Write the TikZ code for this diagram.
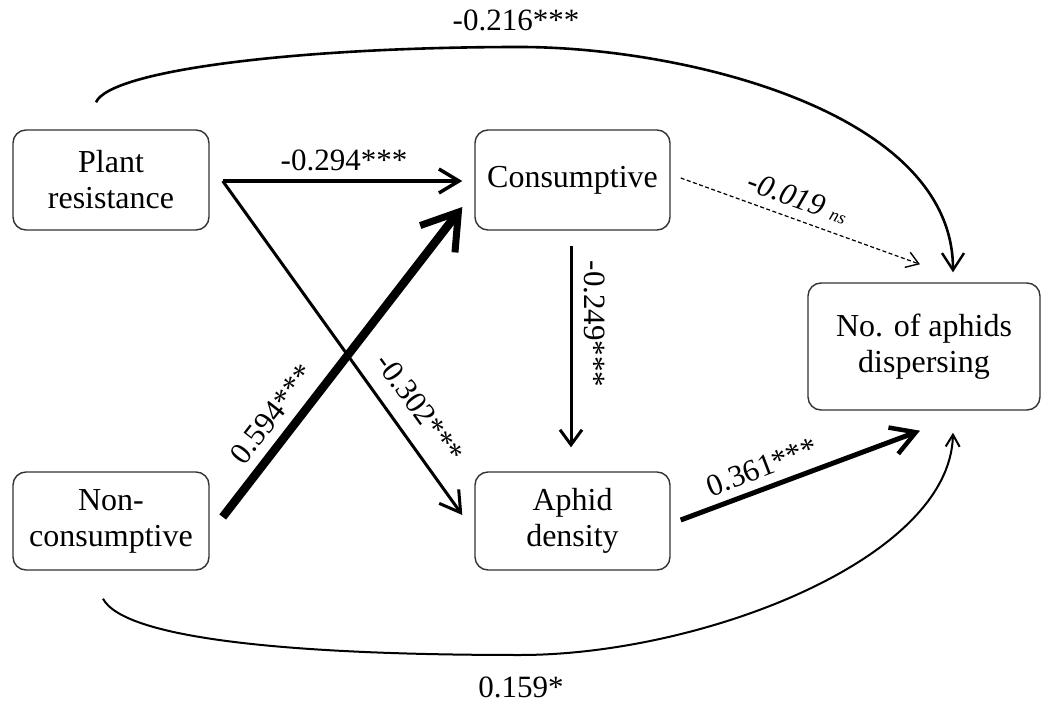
\documentclass[tikz,border=0pt]{standalone}
\usepackage{fontspec}
\setmainfont{Liberation Serif}
\usetikzlibrary{arrows.meta,calc}
\begin{document}
\begin{tikzpicture}[x=1pt,y=-1pt,
  box/.style={draw=black!80,line width=1.4pt,rounded corners=13pt,inner sep=0pt,align=center,
    font=\fontsize{32}{36}\selectfont},
  lbl/.style={font=\fontsize{31}{34}\selectfont,inner sep=0pt},
  conn/.style={line width=#1},
]
\useasboundingbox (0,0) rectangle (1041,703);
\node[box,minimum width=196pt,minimum height=100pt] (PR) at (111,180) {Plant\\resistance};
\node[box,minimum width=195pt,minimum height=100pt] (CO) at (572.5,180) {Consumptive};
\node[box,minimum width=196pt,minimum height=98pt] (NC) at (111,521) {Non-\\consumptive};
\node[box,minimum width=195pt,minimum height=98pt] (AD) at (572.5,521) {Aphid\\density};
\node[box,minimum width=232pt,minimum height=127pt] (ND) at (924,346.5) {No. of aphids\\dispersing};

% straight connectors
\draw[line width=3.5pt,-{Straight Barb[length=20pt,width=24pt,line width=3.5pt]}]
  ($(PR.east)+(13,1)$) -- ($(CO.west)+(-12,1)$);
\draw[line width=3pt,-{Straight Barb[length=20pt,width=24pt,line width=3pt]}]
  ($(PR.east)+(13,1)$) -- ($(AD.west)+(-12,-6)$);
\draw[line width=8.5pt,-{Straight Barb[length=34pt,width=44pt,line width=7pt]}]
  ($(NC.east)+(13,-4)$) -- ($(CO.west)+(-12,27)$);
\draw[line width=3pt,-{Straight Barb[length=15pt,width=22pt,line width=3pt]}]
  ($(CO.south)+(-1.5,15)$) -- ($(AD.north)+(-1.5,-24)$);
\draw[line width=1.2pt,dash pattern=on 4pt off 2.5pt,-{Straight Barb[length=12pt,width=16pt,line width=1.4pt]}]
  ($(CO.east)+(10,-2)$) -- ($(ND.north)+(-4,-18)$);
\draw[line width=5pt,-{Straight Barb[length=24pt,width=28pt,line width=4.5pt]}]
  ($(AD.east)+(10,-1)$) -- ($(ND.south)+(-4,20)$);

% curved connectors
\coordinate (T) at (520,47);
\coordinate (B) at (520,655);
\draw[line width=2.6pt,-{Straight Barb[length=17pt,width=22pt,line width=2.4pt]}]
  ($(PR.north)+(-15,-27)$) .. controls (110,70) and (300,47) .. (T)
  .. controls (680,47) and (953,110) .. ($(ND.north)+(29,-10)$);
\draw[line width=2pt,-{Straight Barb[length=12pt,width=14pt,line width=2pt]}]
  ($(NC.south)+(-8,28)$) .. controls (125,640) and (300,655) .. (B)
  .. controls (700,655) and (950,560) .. ($(ND.south)+(29,22)$);

% labels
\node[lbl] (l1) at (516,20) {-0.216***};
\node[lbl] (l2) at (344,160) {-0.294***};
\node[lbl] (l3) at (521,687) {0.159*};
\node[lbl,rotate=-90] (l4) at (595,324) {-0.249***};
\node[lbl,rotate=52] (l5) at (272,414) {0.594***};
\node[lbl,rotate=-54] (l6) at (420,408) {-0.302***};
\node[lbl,rotate=21] (l7) at (762,467) {0.361***};
\node[lbl,rotate=-20] (l8) at (798,198) {\itshape -0.019 {\fontsize{18}{20}\selectfont ns}};
\end{tikzpicture}
\end{document}
